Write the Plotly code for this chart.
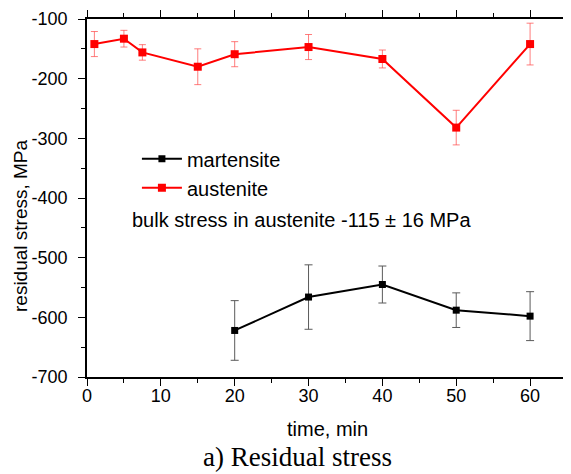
import plotly.graph_objects as go

# Austenite (red)
aus_t = [1, 5, 7.5, 15, 20, 30, 40, 50, 60]
aus_s = [-142, -133, -156, -180, -159, -147, -167, -282, -142]
aus_err = [21, 14, 13, 30, 21, 21, 15, 29, 35]

# Martensite (black)
mar_t = [20, 30, 40, 50, 60]
mar_s = [-622, -566, -545, -588, -598]
mar_err = [50, 54, 31, 29, 41]

x_ticks = [0, 10, 20, 30, 40, 50, 60]
y_ticks = [-700, -600, -500, -400, -300, -200, -100]
x_labels = [str(v) for v in x_ticks]
y_labels = [str(v).replace("\u2212", "-") for v in y_ticks]

SANS = "Liberation Sans, Arial, sans-serif"
SERIF = "Liberation Serif, Times New Roman, serif"

# page body has an 8px margin, so the figure is sized to fit the window
W, H = 563, 466
L, T, R, B = 79, 11, 4, 97
PW, PH = W - L - R, H - T - B


def px(xp):
    return (xp - 8 - L) / PW


def py(yp):
    return 1 - (yp - 8 - T) / PH


fig = go.Figure()
fig.add_trace(go.Scatter(
    x=mar_t, y=mar_s, name="martensite", mode="lines+markers",
    line=dict(color="black", width=2),
    marker=dict(symbol="square", size=7, color="black"),
    error_y=dict(type="data", array=mar_err, visible=True,
                 color="rgb(90,90,90)", thickness=1, width=4),
))
fig.add_trace(go.Scatter(
    x=aus_t, y=aus_s, name="austenite", mode="lines+markers",
    line=dict(color="#ff0000", width=2),
    marker=dict(symbol="square", size=8, color="#ff0000"),
    error_y=dict(type="data", array=aus_err, visible=True,
                 color="rgba(255,70,70,0.7)", thickness=1, width=3.5),
))

axis_common = dict(
    showline=True, linecolor="black", linewidth=1.6, mirror="allticks",
    ticks="outside", ticklen=7, tickwidth=1.4, tickcolor="black",
    showgrid=False, zeroline=False,
    tickfont=dict(family=SANS, size=18, color="black"),
)
fig.update_xaxes(range=[0, 65], tickvals=x_ticks,
                 ticktext=x_labels, ticklabelstandoff=-5,
                 minor=dict(ticks="outside", ticklen=4, dtick=5, tick0=0,
                            tickcolor="black", tickwidth=1.2, showgrid=False),
                 **axis_common)
fig.update_yaxes(range=[-700, -100], tickvals=y_ticks,
                 ticktext=y_labels, ticklabelstandoff=7,
                 minor=dict(ticks="outside", ticklen=4, dtick=50, tick0=-700,
                            tickcolor="black", tickwidth=1.2, showgrid=False),
                 **axis_common)

fig.update_layout(
    width=W, height=H,
    margin=dict(l=L, r=R, t=T, b=B, autoexpand=False),
    paper_bgcolor="white", plot_bgcolor="white",
    showlegend=True,
    legend=dict(x=0.104, y=0.664, xanchor="left", yanchor="top",
                bgcolor="rgba(0,0,0,0)", borderwidth=0,
                font=dict(family=SANS, size=20, color="black"),
                tracegroupgap=0, itemwidth=40),
    annotations=[
        dict(text="bulk stress in austenite -115 \u00b1 16 MPa",
             x=px(130), y=py(220), xref="paper", yref="paper",
             xanchor="left", yanchor="middle", showarrow=False,
             font=dict(family=SANS, size=20, color="black")),
        dict(text="residual stress, MPa", textangle=-90,
             x=px(20), y=py(226), xref="paper", yref="paper",
             xanchor="center", yanchor="middle", showarrow=False,
             font=dict(family=SANS, size=19, color="black")),
        dict(text="time, min",
             x=0.5, y=py(429), xref="paper", yref="paper",
             xanchor="center", yanchor="middle", showarrow=False,
             font=dict(family=SANS, size=20, color="black")),
        dict(text="a) Residual stress",
             x=px(297), y=py(457), xref="paper", yref="paper",
             xanchor="center", yanchor="middle", showarrow=False,
             font=dict(family=SERIF, size=27, color="black")),
    ],
)

fig.write_html("out.html")
